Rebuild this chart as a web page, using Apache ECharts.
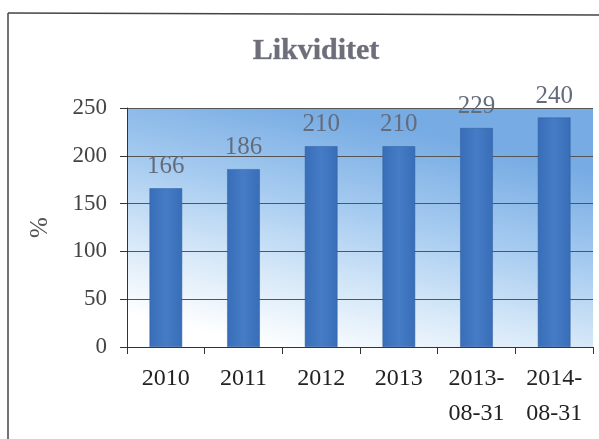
<!DOCTYPE html>
<html>
<head>
<meta charset="utf-8">
<script src="https://cdn.jsdelivr.net/npm/echarts@6/dist/echarts.min.js"></script>
<style>
html, body { margin: 0; padding: 0; background: #fff; }
#main { width: 599px; height: 439px; }
</style>
</head>
<body>
<div id="main"></div>
<script>
// data
var categories = ['2010', '2011', '2012', '2013', '2013-\n08-31', '2014-\n08-31'];
var values = [166, 186, 210, 210, 229, 240];
var yTicks = { min: 0, max: 250, interval: 50 };

var serif = '"Liberation Serif", "DejaVu Serif", serif';
var chart = echarts.init(document.getElementById('main'));

var option = {
	backgroundColor: '#fff',
	animation: false,
	title: {
		text: 'Likviditet',
		left: 311,
		top: 31,
		textAlign: 'center',
		textStyle: {
			fontFamily: serif,
			fontWeight: 'bold',
			fontSize: 30,
			color: '#6e6e7a',
			textBorderColor: '#9a9aa6',
			textBorderWidth: 0.5
		}
	},
	grid: {
		left: 127,
		right: 6,
		top: 108,
		bottom: 92,
		show: true,
		borderWidth: 0,
		// blue at the top fading to white towards the bottom left
		backgroundColor: new echarts.graphic.LinearGradient(0.3, 1, 0.42, 0, [
			{ offset: 0, color: '#ffffff' },
			{ offset: 0.3, color: '#d6e8f8' },
			{ offset: 0.62, color: '#a6cbf0' },
			{ offset: 1, color: '#76abe3' }
		])
	},
	xAxis: {
		type: 'category',
		data: categories,
		axisLine: { lineStyle: { color: '#333', width: 1 } },
		axisTick: { show: true, length: 7, lineStyle: { color: '#333' } },
		axisLabel: {
			fontFamily: serif,
			fontSize: 24,
			color: '#222',
			margin: 14,
			lineHeight: 35
		}
	},
	yAxis: {
		type: 'value',
		min: yTicks.min,
		max: yTicks.max,
		interval: yTicks.interval,
		name: '%',
		nameLocation: 'middle',
		nameGap: 74,
		nameRotate: 90,
		nameTextStyle: { fontFamily: serif, fontSize: 25, color: '#555' },
		axisLine: { show: true, lineStyle: { color: '#333', width: 1 } },
		axisTick: { show: true, length: 7, lineStyle: { color: '#333' } },
		axisLabel: { fontFamily: serif, fontSize: 23, color: '#444', margin: 20 },
		splitLine: { show: true, lineStyle: { color: '#555', width: 1 } }
	},
	series: [{
		type: 'bar',
		data: values,
		barWidth: '42%',
		itemStyle: {
			color: new echarts.graphic.LinearGradient(0, 0, 1, 0, [
				{ offset: 0, color: '#386db8' },
				{ offset: 0.5, color: '#467cc5' },
				{ offset: 1, color: '#386db8' }
			]),
			borderColor: '#2f5e9e',
			borderWidth: 0.5
		},
		label: {
			show: true,
			position: 'top',
			distance: 9,
			fontFamily: serif,
			fontSize: 25,
			color: '#646c7c'
		}
	}],
	graphic: [
		// scanned frame: left and top edges
		{ type: 'line', shape: { x1: 8, y1: 13, x2: 8, y2: 439 }, style: { stroke: '#444', lineWidth: 1.5 } },
		{ type: 'line', shape: { x1: 8, y1: 13, x2: 599, y2: 15 }, style: { stroke: '#444', lineWidth: 1.5 } }
	]
};

chart.setOption(option);
</script>
</body>
</html>
